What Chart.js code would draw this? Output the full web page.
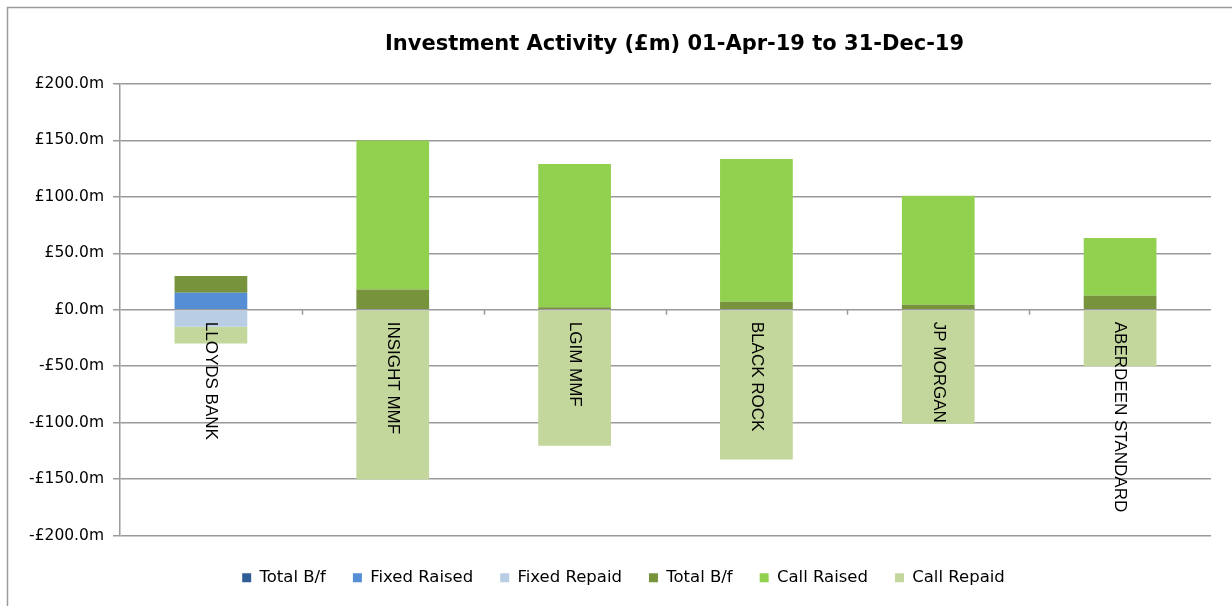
<!DOCTYPE html>
<html>
<head>
<meta charset="utf-8">
<script src="https://cdn.jsdelivr.net/npm/chart.js@4"></script>
<style>
  body { margin: 0; background: #fff; }
</style>
</head>
<body>
<canvas id="investChart" width="1232" height="606"></canvas>
<script>
const categories = ['LLOYDS BANK', 'INSIGHT MMF', 'LGIM MMF', 'BLACK ROCK', 'JP MORGAN', 'ABERDEEN STANDARD'];

// fixed term deposits
const fixedBf = [0, 0, 0, 0, 0, 0];
const fixedRaised = [15, 0, 0, 0, 0, 0];
const fixedRepaid = [-15, 0, 0, 0, 0, 0];

// call accounts / MMFs
const callBf = [15, 18, 2.2, 7, 4.5, 12.5];
const callRaised = [0, 132, 127, 126.6, 96.4, 51];
const callRepaid = [-15, -150.4, -120.4, -132.7, -100.9, -50];

const yTicks = [200, 150, 100, 50, 0, -50, -100, -150, -200];

const titleText = 'Investment Activity (£m) 01-Apr-19 to 31-Dec-19';
const gridColor = '#9a9a9a';

// title, frame, category labels and boundary ticks
const extras = {
  id: 'extras',
  afterLayout(chart) {
    // legend sits a little right of centre in the original
    chart.legend.left += 18;
    chart.legend.right += 18;
  },
  beforeDraw(chart) {
    const ctx = chart.ctx;
    ctx.save();
    ctx.strokeStyle = '#9a9a9a';
    ctx.lineWidth = 1.5;
    ctx.beginPath();
    ctx.moveTo(7.5, chart.height);
    ctx.lineTo(7.5, 7.5);
    ctx.lineTo(chart.width, 7.5);
    ctx.stroke();
    ctx.restore();
  },
  afterDatasetsDraw(chart) {
    const ctx = chart.ctx;
    const x = chart.scales.x;
    const y = chart.scales.y;
    const zero = y.getPixelForValue(0);
    const area = chart.chartArea;

    ctx.save();
    // small tick marks between categories, under the zero line
    ctx.strokeStyle = gridColor;
    ctx.lineWidth = 1.5;
    const step = (area.right - area.left) / categories.length;
    for (let i = 1; i < categories.length; i++) {
      const px = Math.round(x.getPixelForValue(i) - step / 2) + 0.5;
      ctx.beginPath();
      ctx.moveTo(px, zero);
      ctx.lineTo(px, zero + 5);
      ctx.stroke();
    }

    // rotated category labels, reading top to bottom
    ctx.fillStyle = '#000';
    ctx.font = '17px "Liberation Sans"';
    ctx.textAlign = 'left';
    ctx.textBaseline = 'middle';
    categories.forEach((label, i) => {
      ctx.save();
      ctx.translate(x.getPixelForValue(i), zero + 12);
      ctx.rotate(Math.PI / 2);
      ctx.fillText(label, 0, 0);
      ctx.restore();
    });

    // title centred over the plot area
    ctx.font = 'bold 21px "DejaVu Sans"';
    ctx.textAlign = 'center';
    ctx.fillText(titleText, (area.left + area.right) / 2 + 9, 45);
    ctx.restore();
  }
};

const ctx = document.getElementById('investChart').getContext('2d');
new Chart(ctx, {
  type: 'bar',
  data: {
    labels: categories,
    datasets: [
      { label: 'Total B/f', data: fixedBf, backgroundColor: '#2f5d96' },
      { label: 'Fixed Raised', data: fixedRaised, backgroundColor: '#558ed5' },
      { label: 'Fixed Repaid', data: fixedRepaid, backgroundColor: '#b9cde5' },
      { label: 'Total B/f', data: callBf, backgroundColor: '#77933c' },
      { label: 'Call Raised', data: callRaised, backgroundColor: '#92d050' },
      { label: 'Call Repaid', data: callRepaid, backgroundColor: '#c3d69b' }
    ]
  },
  options: {
    responsive: false,
    animation: false,
    datasets: {
      bar: { categoryPercentage: 1, barPercentage: 0.4 }
    },
    layout: { padding: { top: 84, right: 21, bottom: 10, left: 0 } },
    plugins: {
      title: { display: false },
      tooltip: { enabled: false },
      legend: {
        position: 'bottom',
        labels: {
          color: '#000',
          font: { family: '"DejaVu Sans"', size: 16.5 },
          boxWidth: 9,
          boxHeight: 9,
          padding: 27
        }
      }
    },
    scales: {
      x: {
        stacked: true,
        grid: { display: false },
        border: { display: false },
        ticks: { display: false },
        afterFit(scale) { scale.height = 7; }
      },
      y: {
        stacked: true,
        min: -200,
        max: 200,
        afterBuildTicks(scale) {
          scale.ticks = yTicks.map(v => ({ value: v }));
        },
        afterFit(scale) { scale.width = 120; },
        ticks: {
          color: '#000',
          font: { family: '"DejaVu Sans"', size: 15.5 },
          padding: 9,
          callback: v => (v < 0 ? '-£' : '£') + Math.abs(v).toFixed(1) + 'm'
        },
        grid: { color: gridColor, lineWidth: 1.5, tickLength: 7 },
        border: { color: gridColor, width: 1.5 }
      }
    }
  },
  plugins: [extras]
});
</script>
</body>
</html>
